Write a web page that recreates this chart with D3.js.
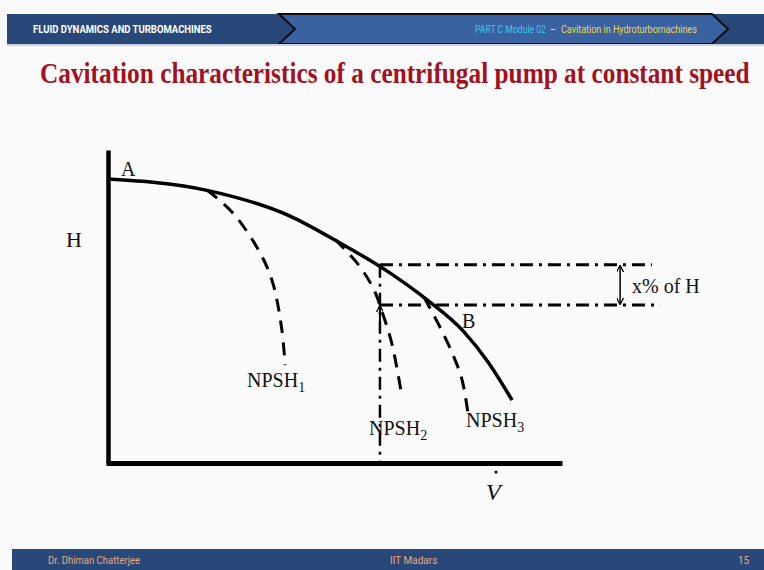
<!DOCTYPE html>
<html>
<head>
<meta charset="utf-8">
<script src="https://cdn.jsdelivr.net/npm/d3@7"></script>
<style>
  body { margin: 0; background: #fafafa; }
  svg { display: block; }
</style>
</head>
<body>
<div id="chart"></div>
<script>
// data, in (flow rate V, head H) units
const headCurve = [[0, 9.07], [2.18, 8.71], [4.01, 7.89], [5.04, 7.09], [6.15, 6.13], [7.03, 5.21], [7.82, 4.22], [8.37, 3.23], [8.9, 2.01]];
const npsh1 = [[2.18, 8.72], [2.75, 7.99], [3.35, 6.71], [3.63, 5.75], [3.83, 4.25], [3.9, 3.13]];
const npsh2 = [[5.0, 7.14], [5.48, 6.4], [5.84, 5.59], [6.06, 4.73], [6.26, 3.77], [6.48, 2.08]];
const npsh3 = [[6.96, 5.3], [7.31, 4.35], [7.6, 3.45], [7.8, 2.65], [7.93, 1.57]];
const dropLevels = [6.33, 5.05];   // H levels of the x% band
const dropStartV = 5.99;
const dropEndV = [11.98, 12.16];
const bandArrowV = 11.28;

const W = 764, H = 570;
const svg = d3.select("#chart").append("svg")
  .attr("width", W).attr("height", H);

svg.append("rect").attr("width", W).attr("height", H).attr("fill", "#fafafa");

// squeeze a text horizontally so it spans `len` px (condensed look)
function squeeze(sel, x0, y0, len) {
  const w = sel.node().getComputedTextLength();
  sel.attr("transform", `translate(${x0},${y0}) scale(${len / w},1)`);
  return sel;
}

// header bar
svg.append("rect").attr("x", 7).attr("y", 14).attr("width", W - 7).attr("height", 30).attr("fill", "#29487a");
svg.append("path")
  .attr("d", "M279,14 L712,14 L728,29 L712,44 L279,44 L295,29 Z")
  .attr("fill", "#3a62a0").attr("stroke", "#0a0a14").attr("stroke-width", 2);
svg.append("rect").attr("x", 7).attr("y", 44).attr("width", W - 7).attr("height", 2).attr("fill", "#c9d3e3");

const hfont = "Roboto, sans-serif";
squeeze(svg.append("text").attr("font-family", hfont).attr("font-weight", "bold").attr("font-size", 10.5)
  .attr("fill", "#ffffff").text("FLUID DYNAMICS AND TURBOMACHINES"), 33, 33, 179);
squeeze(svg.append("text").attr("font-family", hfont).attr("font-size", 10.5).attr("fill", "#3ec3ee")
  .text("PART C Module 02"), 475, 33, 71);
svg.append("text").attr("x", 550).attr("y", 33)
  .attr("font-family", hfont).attr("font-size", 9).attr("fill", "#ffffff").text("–");
squeeze(svg.append("text").attr("font-family", hfont).attr("font-size", 10.5).attr("fill", "#efd54a")
  .text("Cavitation in Hydroturbomachines"), 561, 33, 136);

// title
squeeze(svg.append("text")
  .attr("font-family", "'Liberation Serif', serif").attr("font-weight", "bold").attr("font-size", 29)
  .attr("fill", "#a3111e")
  .text("Cavitation characteristics of a centrifugal pump at constant speed"), 40, 83, 710);

// footer
svg.append("rect").attr("x", 12).attr("y", 549).attr("width", W - 12).attr("height", 21).attr("fill", "#29487a");
const foot = svg.append("g").attr("font-family", hfont).attr("font-size", 10).attr("fill", "#e7a97b");
squeeze(foot.append("text").text("Dr.  Dhiman Chatterjee"), 48, 564, 92);
foot.append("text").attr("x", 390).attr("y", 564).text("IIT Madars");
foot.append("text").attr("x", 738).attr("y", 564).text("15");

// scales
const x = d3.scaleLinear().domain([0, 10]).range([108, 562]);
const y = d3.scaleLinear().domain([0, 10]).range([463, 150]);

const axisG = svg.append("g");
axisG.append("g").attr("transform", `translate(${x(0)},0)`)
  .call(d3.axisLeft(y).tickValues([]).tickSizeOuter(0))
  .select(".domain").attr("stroke", "#000").attr("stroke-width", 4.5);
axisG.append("g").attr("transform", `translate(0,${y(0)})`)
  .call(d3.axisBottom(x.copy().range([106, 562])).tickValues([]).tickSizeOuter(0))
  .select(".domain").attr("stroke", "#000").attr("stroke-width", 5);

// arrow markers
const defs = svg.append("defs");
defs.append("marker").attr("id", "arr").attr("viewBox", "0 0 10 10")
  .attr("refX", 9).attr("refY", 5).attr("markerWidth", 7).attr("markerHeight", 7)
  .attr("markerUnits", "userSpaceOnUse").attr("orient", "auto-start-reverse")
  .append("path").attr("d", "M0,0 L10,5 L0,10").attr("fill", "none").attr("stroke", "#000").attr("stroke-width", 1.8);

const smooth = d3.line().x(d => x(d[0])).y(d => y(d[1])).curve(d3.curveMonotoneX);
const line = d3.line().x(d => x(d[0])).y(d => y(d[1])).curve(d3.curveCatmullRom.alpha(0.5));

svg.append("path").datum(headCurve).attr("d", smooth)
  .attr("fill", "none").attr("stroke", "#000").attr("stroke-width", 3.5);

[npsh1, npsh2, npsh3].forEach(s => {
  svg.append("path").datum(s).attr("d", line)
    .attr("fill", "none").attr("stroke", "#000").attr("stroke-width", 3)
    .attr("stroke-dasharray", "13,9");
});

// x% band
const dashDot = "13,6,3,6";
dropLevels.forEach((lv, i) => {
  svg.append("line")
    .attr("x1", x(dropStartV)).attr("x2", x(dropEndV[i]))
    .attr("y1", y(lv)).attr("y2", y(lv))
    .attr("stroke", "#000").attr("stroke-width", 3).attr("stroke-dasharray", dashDot);
});
svg.append("line")
  .attr("x1", x(dropStartV)).attr("x2", x(dropStartV))
  .attr("y1", y(dropLevels[0])).attr("y2", y(0))
  .attr("stroke", "#000").attr("stroke-width", 2.5).attr("stroke-dasharray", dashDot);
svg.append("line")
  .attr("x1", x(dropStartV)).attr("x2", x(dropStartV))
  .attr("y1", y(dropLevels[1]) + 16).attr("y2", y(dropLevels[1]) + 1)
  .attr("stroke", "#000").attr("stroke-width", 2).attr("marker-end", "url(#arr)");
svg.append("line")
  .attr("x1", x(bandArrowV)).attr("x2", x(bandArrowV))
  .attr("y1", y(dropLevels[0]) + 1).attr("y2", y(dropLevels[1]) - 1)
  .attr("stroke", "#000").attr("stroke-width", 1.5)
  .attr("marker-start", "url(#arr)").attr("marker-end", "url(#arr)");

// labels
const lab = svg.append("g").attr("font-family", "'Liberation Serif', serif").attr("fill", "#111");
lab.append("text").attr("x", 121).attr("y", 176).attr("font-size", 20).text("A");
lab.append("text").attr("x", 66).attr("y", 247).attr("font-size", 22).text("H");
lab.append("text").attr("x", 462).attr("y", 328).attr("font-size", 20).text("B");
lab.append("text").attr("x", 632).attr("y", 293).attr("font-size", 20).text("x% of H");
lab.append("text").attr("x", 486).attr("y", 500).attr("font-size", 24).attr("font-style", "italic").text("V");
// dot over V (flow rate)
svg.append("circle").attr("cx", 496).attr("cy", 472).attr("r", 1.6).attr("fill", "#111");

const npshLabels = [["1", 247, 387], ["2", 369, 435], ["3", 466, 427]];
npshLabels.forEach(([sub, lx, ly]) => {
  const t = lab.append("text").attr("x", lx).attr("y", ly).attr("font-size", 20);
  t.append("tspan").text("NPSH");
  t.append("tspan").attr("dy", 5).attr("font-size", 14).text(sub);
});
</script>
</body>
</html>
